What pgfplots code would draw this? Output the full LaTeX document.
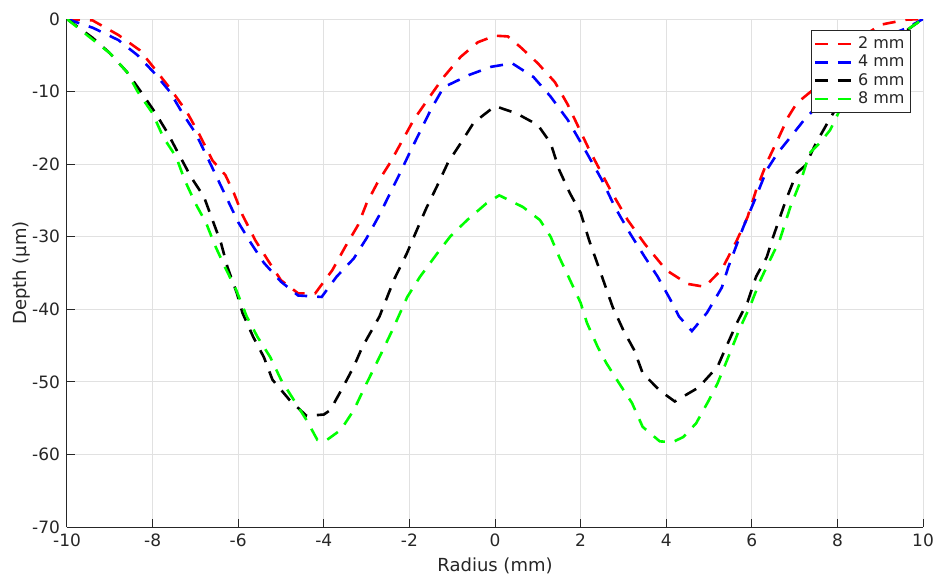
\documentclass[border=0pt]{standalone}
\usepackage{fontspec}
\setmainfont{DejaVu Sans}
\usepackage{pgfplots}
\pgfplotsset{compat=1.18}
\definecolor{axgray}{RGB}{38,38,38}
\definecolor{gridgray}{RGB}{225,225,225}
\begin{document}
\begin{tikzpicture}
\path[use as bounding box] (-33.5pt,-23.5pt) rectangle (434.5pt,263.5pt);
\begin{axis}[
  at={(0,0)}, anchor=south west,
  scale only axis, width=428pt, height=254pt,
  xmin=-10, xmax=10, ymin=-70, ymax=0,
  axis x line*=bottom, axis y line*=left,
  axis line style={axgray, line width=0.5pt},
  xtick={-10,-8,-6,-4,-2,0,2,4,6,8,10},
  xticklabels={-10,-8,-6,-4,-2,0,2,4,6,8,10},
  ytick={-70,-60,-50,-40,-30,-20,-10,0},
  yticklabels={-70,-60,-50,-40,-30,-20,-10,0},
  tick align=inside, major tick length=4pt,
  tick style={axgray, line width=0.5pt},
  grid=major, major grid style={gridgray, line width=0.5pt},
  ticklabel style={font=\fontsize{8.5}{10}\selectfont, text=axgray},
  xlabel={Radius (mm)}, ylabel={Depth (µm)},
  label style={font=\fontsize{9}{11}\selectfont, text=axgray},
  xlabel style={yshift=1.5pt},
  ylabel style={yshift=-6pt},
  legend style={at={(1,1)}, anchor=north east, xshift=-6pt, yshift=-5.5pt,
    draw=axgray, line width=0.5pt, fill=white, font=\fontsize{8}{9.5}\selectfont,
    inner sep=1pt, row sep=-2.2pt, text=axgray},
  legend cell align=left,
  legend image code/.code={\draw[#1] (0pt,0pt) -- (19pt,0pt);},
  every axis plot/.append style={line width=1.3pt, dash pattern=on 6.5pt off 5pt},
]
\addplot[red] coordinates {
(-10,0) (-9.4,-0.2) (-8.8,-2.2) (-8.3,-4.3) (-8,-6.5) (-7.6,-9.5) (-7.2,-12.8)
(-6.9,-16) (-6.6,-19.5) (-6.3,-21.5) (-6.1,-24) (-5.9,-27) (-5.6,-30.5)
(-5.3,-33.3) (-5,-36) (-4.6,-37.8) (-4.2,-37.8) (-3.8,-34.6) (-3.5,-31.4)
(-3.2,-28.4) (-3,-25.4) (-2.75,-22.6) (-2.45,-19.8) (-1.9,-13.9) (-1.5,-10.5)
(-1.2,-8) (-0.8,-5.2) (-0.4,-3.2) (0,-2.3) (0.3,-2.4) (0.6,-3.9) (1,-6.1)
(1.4,-8.7) (1.7,-11.8) (2.2,-18) (2.7,-23.6) (3.1,-27.7) (3.5,-31) (4,-34.6)
(4.5,-36.5) (4.9,-36.9) (5.3,-34.5) (5.65,-30.5) (5.9,-27.3) (6.1,-23.6)
(6.35,-19.8) (6.6,-16.7) (6.85,-13.5) (7.05,-11.6) (7.4,-9.9) (7.9,-9)
(8.4,-5) (8.7,-2) (9,-0.8) (9.6,-0.1) (10,0)
};
\addlegendentry{2 mm}
\addplot[blue] coordinates {
(-10,0) (-9.4,-1.2) (-8.8,-2.9) (-8.35,-5) (-7.95,-7.5) (-7.6,-10) (-7.3,-13)
(-7,-15.7) (-6.75,-18.7) (-6.5,-21.8) (-6.25,-24.9) (-6,-28) (-5.7,-30.9)
(-5.4,-33.6) (-5,-36.2) (-4.6,-38.1) (-4.05,-38.3) (-3.7,-35.5) (-3.3,-33)
(-3,-30.2) (-2.7,-27) (-2.45,-24) (-2.2,-21) (-2,-18.5) (-1.5,-12.5)
(-1.2,-9.4) (-0.6,-7.7) (-0.1,-6.6) (0.4,-6.1) (0.9,-8) (1.3,-10.7)
(1.7,-13.9) (2.1,-18) (2.5,-22.2) (2.8,-25.9) (3.15,-29.5) (3.5,-32.8)
(3.8,-35.5) (4.1,-38.7) (4.3,-41) (4.6,-43) (4.95,-40.5) (5.3,-37)
(5.45,-34.2) (5.8,-28.7) (6.1,-24.5) (6.35,-20.8) (6.6,-18.5) (6.9,-16.3)
(7.25,-13.7) (7.8,-10.5) (8.3,-7) (8.8,-4) (9.3,-2) (9.6,-1.3) (10,0)
};
\addlegendentry{4 mm}
\addplot[black] coordinates {
(-10,0) (-9.4,-2.6) (-9,-4.7) (-8.6,-7.3) (-8.3,-9.8) (-7.95,-12.8)
(-7.65,-15.7) (-7.4,-18.5) (-7.1,-21.8) (-6.8,-24.5) (-6.6,-27.7) (-6.4,-30.9)
(-6.25,-34.2) (-6.03,-37.8) (-5.9,-40.5) (-5.65,-43.8) (-5.4,-46.6)
(-5.2,-49.7) (-4.8,-52.5) (-4.4,-54.7) (-4,-54.5) (-3.85,-53.9) (-3.55,-50.7)
(-3.3,-47.9) (-3.1,-45.2) (-2.7,-41) (-2.35,-35.8) (-2.06,-32.3) (-1.85,-29.4)
(-1.6,-26) (-1.36,-23.1) (-1.1,-19.8) (-0.8,-17.1) (-0.5,-14.3) (0,-12)
(0.5,-13) (1,-14.6) (1.3,-17.1) (1.5,-20.8) (1.75,-24) (2,-26.7) (2.2,-30.5)
(2.5,-35.5) (2.75,-39.7) (3,-42.9) (3.25,-45.6) (3.45,-48.8) (3.85,-51.2)
(4.2,-52.7) (4.75,-50.8) (5.2,-47.9) (5.4,-45.2) (5.65,-41.9) (5.9,-39)
(6.1,-35.5) (6.35,-32.8) (6.5,-30) (6.8,-24.9) (7.05,-21.2) (7.25,-20.2)
(7.5,-17.1) (7.78,-14.2) (8.2,-10) (8.7,-6) (9.2,-3.5) (9.75,-1) (10,0)
};
\addlegendentry{6 mm}
\addplot[green] coordinates {
(-10,0) (-9.45,-2.6) (-9,-4.7) (-8.6,-7.3) (-8.35,-10) (-8,-13) (-7.75,-16.3)
(-7.45,-19) (-7.25,-22.2) (-7,-25.4) (-6.75,-28.1) (-6.55,-31.1) (-6.3,-34.3)
(-6.05,-37.3) (-5.8,-41) (-5.55,-43.8) (-5.25,-46.6) (-5,-49.7) (-4.7,-52.5)
(-4.4,-55.3) (-4.15,-58) (-3.95,-58.1) (-3.6,-56.6) (-3.3,-53.9) (-3,-50.2)
(-2.7,-46.6) (-2.4,-42.9) (-2.05,-38.3) (-1.75,-35.5) (-1.35,-32.3)
(-1.05,-30) (-0.65,-27.7) (-0.2,-25.4) (0.1,-24.3) (0.65,-25.9) (1.05,-27.7)
(1.3,-30) (1.5,-32.8) (1.7,-35.3) (2,-39.1) (2.15,-41.9) (2.4,-45.2)
(2.6,-47.4) (2.9,-50.2) (3.2,-52.9) (3.45,-56.2) (3.85,-58.2) (4.15,-58.3)
(4.4,-57.6) (4.7,-55.7) (5,-52.5) (5.2,-50.2) (5.45,-46.6) (5.7,-42.9)
(5.95,-39.7) (6.2,-36) (6.4,-33.5) (6.65,-30.5) (6.9,-25.9) (7.15,-22.2)
(7.35,-18.5) (7.6,-17) (7.83,-15.3) (8.06,-12.5) (8.5,-7.5) (9,-4.5)
(9.5,-2) (10,0)
};
\addlegendentry{8 mm}
\end{axis}
\end{tikzpicture}
\end{document}
